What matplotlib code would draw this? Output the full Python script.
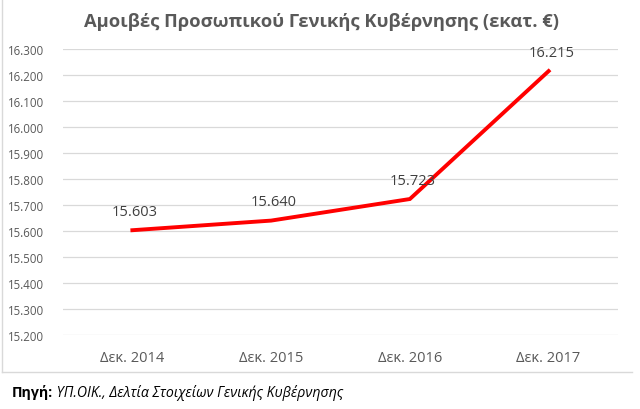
import matplotlib
matplotlib.use("Agg")
import matplotlib.pyplot as plt
from matplotlib.lines import Line2D
from matplotlib.ticker import FuncFormatter, MultipleLocator

categories = ["Δεκ. 2014", "Δεκ. 2015", "Δεκ. 2016", "Δεκ. 2017"]
values = [15603, 15640, 15723, 16215]
title = "Αμοιβές Προσωπικού Γενικής Κυβέρνησης (εκατ. €)"
source_bold = "Πηγή:"
source_italic = " ΥΠ.ΟΙΚ., Δελτία Στοιχείων Γενικής Κυβέρνησης"

plt.rcParams['font.family'] = ['Open Sans', 'DejaVu Sans']

W, H = 640, 410
fig = plt.figure(figsize=(W/100, H/100), dpi=100)
ax = fig.add_axes([63/W, 1-336/H, (618-63)/W, (336-50)/H])

def fmt(v, pos=None):
    return f"{int(round(v)):,}".replace(",", ".")

x = list(range(len(categories)))
ax.plot(x, values, color="#ff0000", lw=2.8, solid_joinstyle="miter", zorder=3)
for xi, v in zip(x, values):
    ax.annotate(fmt(v), (xi, v), xytext=(2, 8), textcoords="offset points",
                ha="center", va="bottom", fontsize=10.5, color="#404040")

ax.set_xlim(-0.5, len(categories)-0.5)
ax.set_ylim(15200, 16300)
ax.yaxis.set_major_locator(MultipleLocator(100))
ax.yaxis.set_major_formatter(FuncFormatter(fmt))
ax.set_xticks(x)
ax.set_xticklabels(categories)
ax.grid(axis="y", color="#d9d9d9", lw=0.9)
ax.set_axisbelow(True)
for s in ax.spines.values():
    s.set_visible(False)
ax.tick_params(axis="y", length=0, pad=13.5, labelsize=8.3, labelcolor="#595959")
ax.tick_params(axis="x", length=0, pad=11, labelsize=10.5, labelcolor="#595959")

fig.text(322/W, 1-22/H, title, ha="center", va="center", fontsize=13.2,
         fontweight="bold", color="#595959")

# chart frame (left and bottom)
fig.add_artist(Line2D([2/W, 2/W], [1-373/H, 1], color="#d9d9d9", lw=1))
fig.add_artist(Line2D([2/W, 632/W], [1-373/H, 1-373/H], color="#d9d9d9", lw=1))

t1 = fig.text(12/W, 1-393/H, source_bold, ha="left", va="center", fontsize=10.2,
              fontweight="bold", color="#000000")
fig.canvas.draw()
bb = t1.get_window_extent()
fig.text(bb.x1/W, 1-393/H, source_italic, ha="left", va="center", fontsize=10.2,
         style="italic", color="#000000")

fig.savefig("out.png", dpi=100)
